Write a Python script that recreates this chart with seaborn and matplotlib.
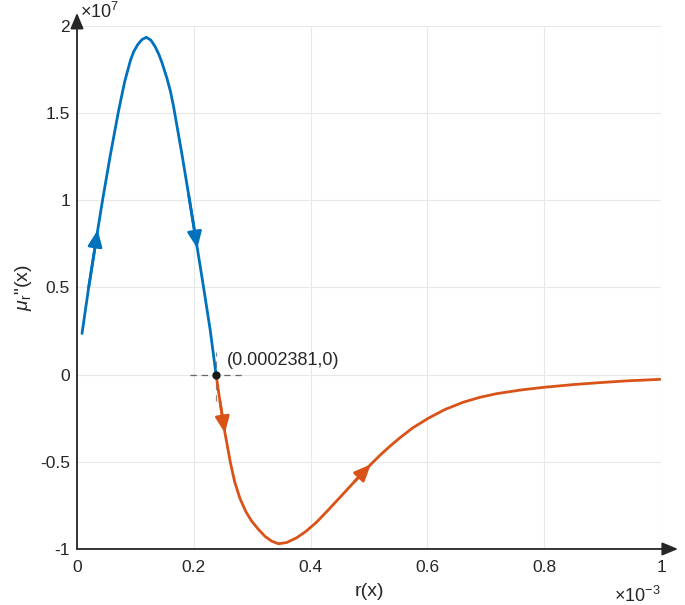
import numpy as np
import pandas as pd
import matplotlib
matplotlib.use("Agg")
import matplotlib.pyplot as plt
from matplotlib.ticker import FuncFormatter
import seaborn as sns

# valores: x em unidades de 1e-3, y em unidades de 1e7
X_SCALE = 1e-3
Y_SCALE = 1e7

blue_x = [0.0086, 0.020, 0.0355, 0.0445, 0.057, 0.0713, 0.0816, 0.0913, 0.097, 0.104,
          0.1113, 0.1187, 0.1267, 0.134, 0.1404, 0.1455, 0.154, 0.160, 0.1655, 0.1798,
          0.191, 0.206, 0.217, 0.228, 0.2381]
blue_y = [0.236, 0.500, 0.830, 1.015, 1.258, 1.515, 1.680, 1.800, 1.852, 1.893,
          1.922, 1.935, 1.918, 1.880, 1.835, 1.790, 1.700, 1.625, 1.535, 1.262,
          1.035, 0.725, 0.495, 0.258, 0.0]

orange_x = [0.2381, 0.2449, 0.2534, 0.263, 0.270, 0.279, 0.289, 0.299, 0.310, 0.322,
            0.3334, 0.345, 0.359, 0.376, 0.392, 0.410, 0.430, 0.450, 0.475, 0.503,
            0.519, 0.536, 0.553, 0.575, 0.6016, 0.630, 0.6615, 0.690, 0.7187, 0.76,
            0.7985, 0.85, 0.890, 0.94, 0.998]
orange_y = [0.0, -0.155, -0.335, -0.51, -0.615, -0.71, -0.785, -0.84, -0.885, -0.928,
            -0.955, -0.970, -0.963, -0.936, -0.899, -0.847, -0.777, -0.705, -0.614, -0.515,
            -0.462, -0.410, -0.362, -0.305, -0.250, -0.200, -0.158, -0.130, -0.109, -0.088,
            -0.073, -0.057, -0.047, -0.036, -0.027]

# índices (ponta) das setas de direção em cada curva
blue_arrows = [2, 21]
orange_arrows = [2, 19]

root_x = 0.2381
root_y = 0.0
root_label = "(0.0002381,0)"

xticks = [0, 0.2, 0.4, 0.6, 0.8, 1]
yticks = [-1, -0.5, 0, 0.5, 1, 1.5, 2]

BLUE = "#0072BD"
ORANGE = "#D95319"
DARK = "#262626"

df_blue = pd.DataFrame({"r": np.array(blue_x) * X_SCALE, "mu": np.array(blue_y) * Y_SCALE})
df_orange = pd.DataFrame({"r": np.array(orange_x) * X_SCALE, "mu": np.array(orange_y) * Y_SCALE})

sns.set_style("whitegrid")
plt.rcParams["font.family"] = ["Liberation Sans", "DejaVu Sans"]
plt.rcParams["mathtext.fontset"] = "custom"
plt.rcParams["mathtext.rm"] = "Liberation Sans"
plt.rcParams["mathtext.it"] = "Liberation Sans:italic"
plt.rcParams["axes.unicode_minus"] = False

fig = plt.figure(figsize=(6.85, 6.05), dpi=100)
ax = fig.add_axes([0.1124, 0.0926, 0.8526, 0.8645])

sns.lineplot(data=df_blue, x="r", y="mu", color=BLUE, lw=2, sort=False, ax=ax,
             solid_joinstyle="round", solid_capstyle="round")
sns.lineplot(data=df_orange, x="r", y="mu", color=ORANGE, lw=2, sort=False, ax=ax,
             solid_joinstyle="round", solid_capstyle="round")

# setas ao longo das curvas
for df, idxs, c in [(df_blue, blue_arrows, BLUE), (df_orange, orange_arrows, ORANGE)]:
    for i in idxs:
        ax.annotate("", xy=(df["r"][i], df["mu"][i]), xytext=(df["r"][i - 1], df["mu"][i - 1]),
                    arrowprops=dict(arrowstyle="-|>,head_length=0.55,head_width=0.24",
                                    color=c, lw=2, mutation_scale=18, shrinkA=0, shrinkB=0))

# ponto marcado (data tip)
rx = root_x * X_SCALE
ry = root_y * Y_SCALE
ax.plot([rx - 0.045 * X_SCALE, rx + 0.045 * X_SCALE], [ry, ry], color="#666666", lw=0.9,
        dashes=(5, 4), zorder=1)
ax.plot([rx, rx], [ry - 0.15 * Y_SCALE, ry + 0.13 * Y_SCALE], color="#888888", lw=0.9,
        dashes=(5, 4), zorder=1)
ax.plot([rx], [ry], marker="o", ms=5, color="#1a1a1a", mec="#1a1a1a", zorder=5)
ax.annotate(root_label, xy=(rx, ry), xytext=(8, 10), textcoords="offset points",
            fontsize=13, color=DARK, ha="left", va="center")

ax.set_xlim(0, 1 * X_SCALE)
ax.set_ylim(-1 * Y_SCALE, 2 * Y_SCALE)
ax.set_xticks([t * X_SCALE for t in xticks])
ax.set_yticks([t * Y_SCALE for t in yticks])
ax.xaxis.set_major_formatter(FuncFormatter(lambda v, p: f"{v / X_SCALE:g}"))
ax.yaxis.set_major_formatter(FuncFormatter(lambda v, p: f"{v / Y_SCALE:g}"))

ax.grid(True, color="#e8e8e8", lw=0.8)
for s in ax.spines.values():
    s.set_visible(False)
ax.tick_params(direction="in", length=4, width=0.8, colors=DARK, labelsize=12.5)
ax.tick_params(axis="x", pad=8)
ax.tick_params(axis="y", pad=5)

# eixos com setas
arrow_kw = dict(arrowstyle="-|>,head_length=0.6,head_width=0.25", color=DARK, lw=1.3,
                mutation_scale=16, shrinkA=0, shrinkB=0)
ax.annotate("", xy=(0, 1.025), xytext=(0, 0), xycoords="axes fraction", arrowprops=arrow_kw,
            annotation_clip=False)
ax.annotate("", xy=(1.029, 0), xytext=(0, 0), xycoords="axes fraction", arrowprops=arrow_kw,
            annotation_clip=False)

ax.set_xlabel("r(x)", fontsize=14, color=DARK, labelpad=6)
ax.set_ylabel(r'$\mu_{\mathrm{r}}$"(x)', fontsize=14, color=DARK, labelpad=4)

ax.text(1.0, -0.09, r"×10$^{-3}$", transform=ax.transAxes, ha="right", va="center",
        fontsize=13, color=DARK)
ax.text(0.006, 1.008, r"×10$^{7}$", transform=ax.transAxes, ha="left", va="bottom",
        fontsize=13, color=DARK)

plt.savefig("out.png", dpi=100)
plt.close()
